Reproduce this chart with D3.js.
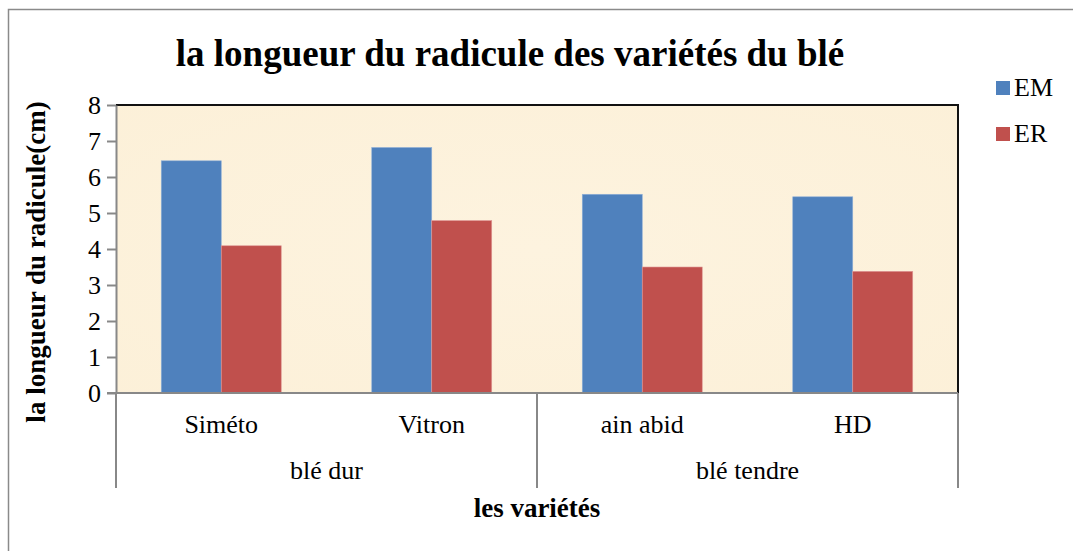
<!DOCTYPE html>
<meta charset="utf-8">
<script src="https://cdnjs.cloudflare.com/ajax/libs/d3/7.8.5/d3.min.js"></script>
<body style="margin:0;background:#fff">
<style>
  body { font-family: "Liberation Serif", "Times New Roman", serif; }
  text { fill: #000; }
</style>
<div id="chart"></div>
<script>
// data
var varietes = ["Siméto", "Vitron", "ain abid", "HD"];
var groupes = ["blé dur", "blé dur", "blé tendre", "blé tendre"];
var seriesNames = ["EM", "ER"];
var EM = [6.45, 6.82, 5.52, 5.45];
var ER = [4.09, 4.79, 3.50, 3.38];
var yTicks = [0, 1, 2, 3, 4, 5, 6, 7, 8];
var colours = ["#4F81BD", "#C0504D"];

var W = 1073, H = 551;
var plot = {left: 116, right: 958, top: 105, bottom: 393};
var fs = 26;

var svg = d3.select("#chart").append("svg")
  .attr("width", W).attr("height", H)
  .attr("font-family", "Liberation Serif, Times New Roman, serif");

// outer frame (right and bottom edges fall outside the picture)
svg.append("rect")
  .attr("x", 8.5).attr("y", 9.5)
  .attr("width", W + 10).attr("height", H + 10)
  .attr("fill", "none").attr("stroke", "#8a8a8a").attr("stroke-width", 1.5);

var x = d3.scaleBand()
  .domain(varietes)
  .range([plot.left, plot.right])
  .paddingInner(0.43).paddingOuter(0.215);

var xs = d3.scaleBand().domain(seriesNames).range([0, x.bandwidth()]);

var y = d3.scaleLinear().domain([0, 8]).range([plot.bottom, plot.top]);

// plot background
var defs = svg.append("defs");
var grad = defs.append("radialGradient").attr("id", "bg")
  .attr("cx", "50%").attr("cy", "50%").attr("r", "75%");
grad.append("stop").attr("offset", "0%").attr("stop-color", "#fdf3df");
grad.append("stop").attr("offset", "100%").attr("stop-color", "#fcf0d8");

svg.append("rect")
  .attr("x", plot.left).attr("y", plot.top)
  .attr("width", plot.right - plot.left).attr("height", plot.bottom - plot.top)
  .attr("fill", "url(#bg)");

// bars
var rows = varietes.map(function(v, i) { return {name: v, EM: EM[i], ER: ER[i]}; });

svg.append("g").selectAll("g")
  .data(rows)
  .join("g")
  .attr("transform", function(d) { return "translate(" + x(d.name) + ",0)"; })
  .selectAll("rect")
  .data(function(d) { return seriesNames.map(function(s) { return {key: s, value: d[s]}; }); })
  .join("rect")
  .attr("x", function(d) { return xs(d.key); })
  .attr("y", function(d) { return y(d.value); })
  .attr("width", xs.bandwidth())
  .attr("height", function(d) { return y(0) - y(d.value); })
  .attr("fill", function(d, i) { return colours[i]; })
  .attr("stroke", function(d, i) { return i == 0 ? "#8fb0d8" : "#e09a98"; })
  .attr("stroke-width", 0.6);

// top and right border of plot area
svg.append("path")
  .attr("d", "M" + plot.left + "," + plot.top + "H" + plot.right + "V" + plot.bottom)
  .attr("fill", "none").attr("stroke", "#111").attr("stroke-width", 2);

// y axis
var yAxis = svg.append("g")
  .attr("transform", "translate(" + plot.left + ",0)")
  .call(d3.axisLeft(y).tickValues(yTicks).tickSize(9).tickPadding(6).tickSizeOuter(0));
yAxis.select(".domain").attr("stroke", "#888").attr("stroke-width", 2);
yAxis.selectAll(".tick line").attr("stroke", "#888").attr("stroke-width", 2);
yAxis.selectAll("text")
  .attr("font-family", "Liberation Serif, serif")
  .attr("font-size", fs).attr("fill", "#000").attr("dy", "0.34em");

// x axis line
svg.append("line")
  .attr("x1", plot.left - 9).attr("x2", plot.right)
  .attr("y1", plot.bottom).attr("y2", plot.bottom)
  .attr("stroke", "#888").attr("stroke-width", 2);

// group separators
var groupNames = Array.from(new Set(groupes));
var groupSpan = groupNames.map(function(g) {
  var idx = varietes.filter(function(v, i) { return groupes[i] == g; });
  var first = x(idx[0]) - x.step() * x.paddingInner() / 2;
  var last = x(idx[idx.length - 1]) + x.bandwidth() + x.step() * x.paddingInner() / 2;
  return {name: g, x0: first, x1: last};
});
var sepX = [plot.left].concat(groupSpan.map(function(g) { return g.x1; }));
svg.append("g").selectAll("line")
  .data(sepX)
  .join("line")
  .attr("x1", function(d) { return d; }).attr("x2", function(d) { return d; })
  .attr("y1", plot.bottom).attr("y2", 488)
  .attr("stroke", "#888").attr("stroke-width", 2);

// category labels
svg.append("g").selectAll("text")
  .data(varietes)
  .join("text")
  .attr("x", function(d) { return x(d) + x.bandwidth() / 2; })
  .attr("y", 433)
  .attr("text-anchor", "middle")
  .attr("font-size", fs)
  .text(function(d) { return d; });

svg.append("g").selectAll("text")
  .data(groupSpan)
  .join("text")
  .attr("x", function(d) { return (d.x0 + d.x1) / 2; })
  .attr("y", 479)
  .attr("text-anchor", "middle")
  .attr("font-size", fs)
  .text(function(d) { return d.name; });

// titles
svg.append("text")
  .attr("x", 510).attr("y", 66)
  .attr("text-anchor", "middle")
  .attr("font-size", 37).attr("font-weight", "bold")
  .text("la longueur du radicule des variétés du blé");

svg.append("text")
  .attr("x", 537).attr("y", 517)
  .attr("text-anchor", "middle")
  .attr("font-size", 27).attr("font-weight", "bold")
  .text("les variétés");

svg.append("text")
  .attr("transform", "translate(45,262) rotate(-90)")
  .attr("text-anchor", "middle")
  .attr("font-size", 27).attr("font-weight", "bold")
  .text("la longueur du radicule(cm)");

// legend
var legend = svg.append("g").selectAll("g")
  .data(seriesNames)
  .join("g")
  .attr("transform", function(d, i) { return "translate(996," + (81 + i * 46) + ")"; });
legend.append("rect")
  .attr("width", 14).attr("height", 14)
  .attr("fill", function(d, i) { return colours[i]; });
legend.append("text")
  .attr("x", 18).attr("y", 15)
  .attr("font-size", fs)
  .text(function(d) { return d; });
</script>
</body>
